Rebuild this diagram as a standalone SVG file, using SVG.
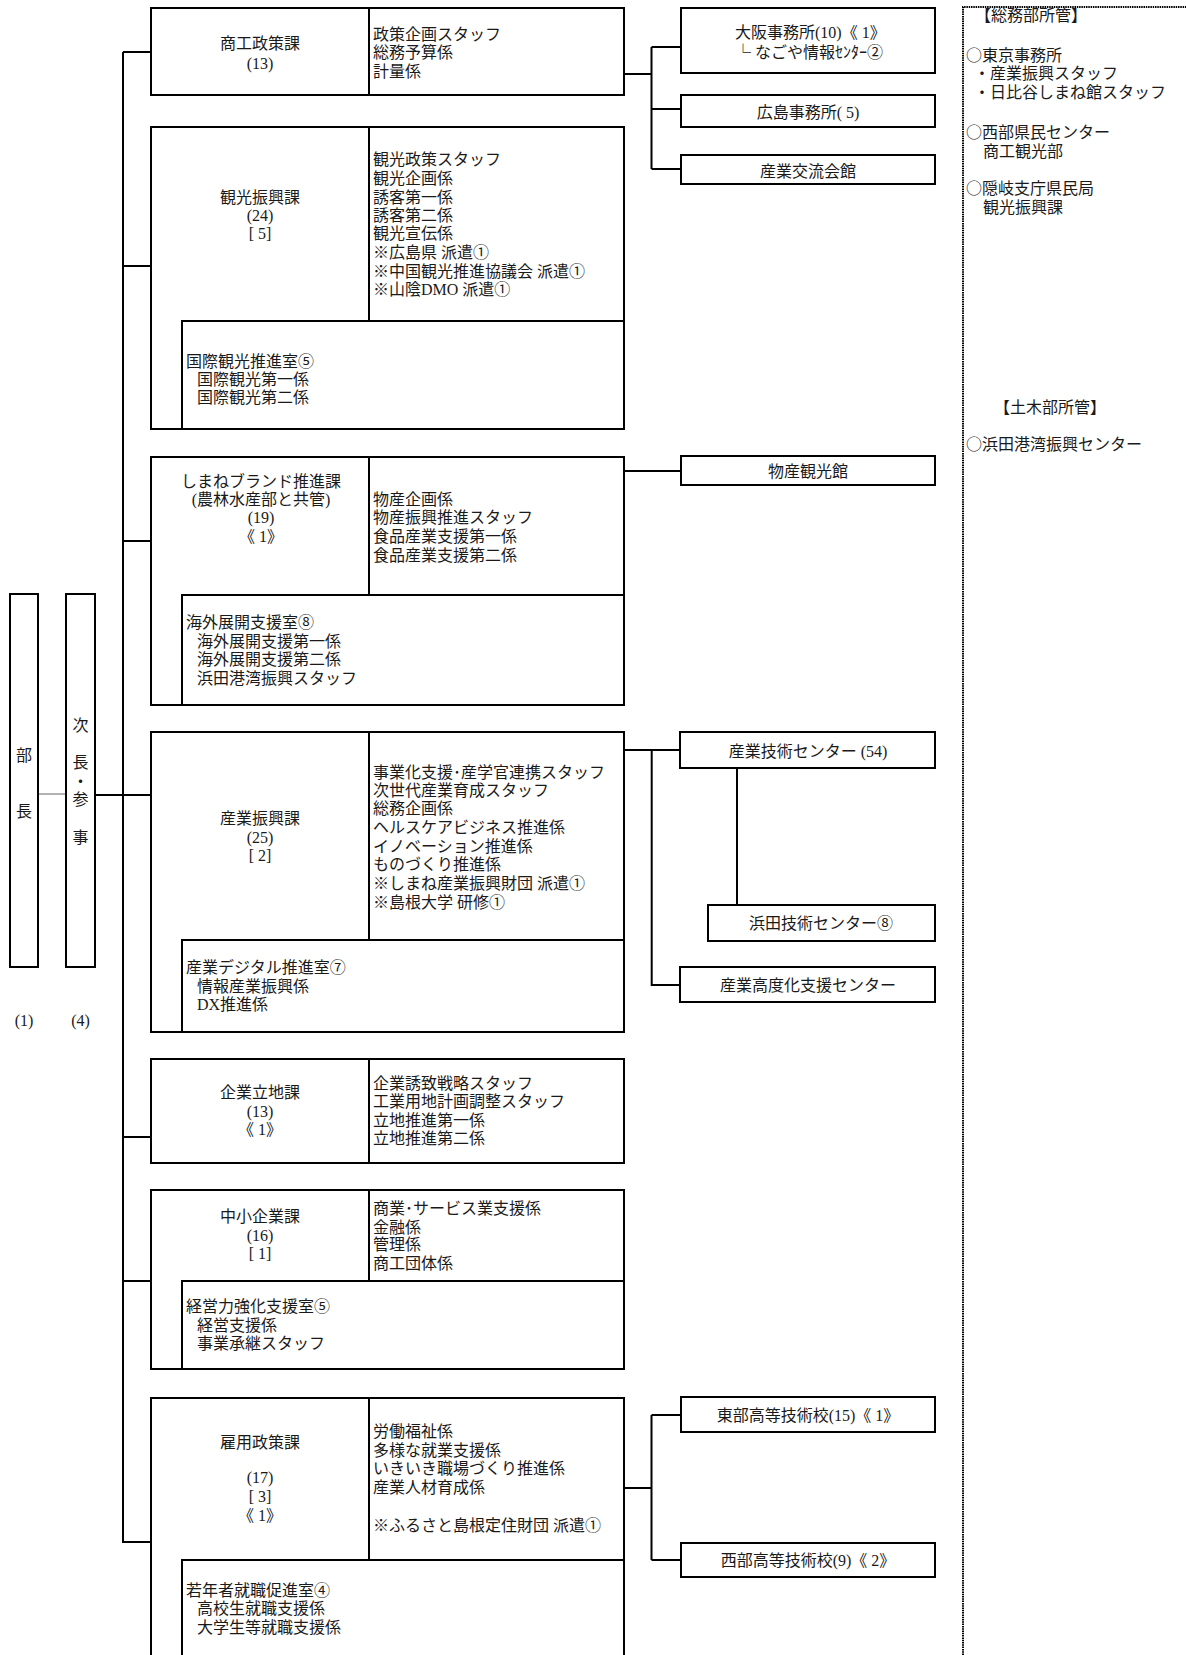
<svg xmlns="http://www.w3.org/2000/svg" width="1186" height="1655" viewBox="0 0 1186 1655">
<style>
.b{fill:#fff;stroke:#000;stroke-width:2}
.l{fill:none;stroke:#000;stroke-width:2}
.thin{fill:none;stroke:#666;stroke-width:1}
.dot{fill:none;stroke:#000;stroke-width:2;stroke-dasharray:1.5 0.8}
text{font-family:'Liberation Serif','Noto Sans CJK JP',serif;font-size:16px;fill:#1a1a1a}
.j{font-family:'Noto Sans CJK JP',sans-serif}
.c{text-anchor:middle}
</style>
<rect x="0" y="0" width="1186" height="1655" fill="#fff"/>

<g id="connectors">
<line class="l" x1="123" y1="52" x2="123" y2="1542"/>
<line class="l" x1="123" y1="52" x2="151" y2="52"/>
<line class="l" x1="123" y1="266" x2="151" y2="266"/>
<line class="l" x1="123" y1="541" x2="151" y2="541"/>
<line class="l" x1="95" y1="795" x2="151" y2="795"/>
<line class="l" x1="123" y1="1137" x2="151" y2="1137"/>
<line class="l" x1="123" y1="1281" x2="151" y2="1281"/>
<line class="l" x1="122" y1="1542" x2="151" y2="1542"/>
<line class="thin" x1="38" y1="794" x2="66" y2="794"/>
<path class="l" d="M624 74H651.5M651.5 47V169M651.5 47H681M651.5 109H681M651.5 169H681"/>
<path class="l" d="M624 471H681"/>
<path class="l" d="M624 750H680M651.7 750V985H680M737 768V905"/>
<path class="l" d="M624 1488H651.5M651.5 1415V1560M651.5 1415H681M651.5 1560H681"/>
</g>

<g id="bucho">
<rect class="b" x="10" y="594" width="28" height="373"/>
<text class="c" x="24" y="761">部</text>
<text class="c" x="24" y="817">長</text>
<text class="c" x="24" y="1026">(1)</text>
</g>

<g id="jicho">
<rect class="b" x="66" y="594" width="29" height="373"/>
<text class="c" x="80.5" y="731">次</text>
<text class="c" x="80.5" y="768">長</text>
<text class="c" x="80.5" y="787">・</text>
<text class="c" x="80.5" y="805">参</text>
<text class="c" x="80.5" y="843">事</text>
<text class="c" x="80.5" y="1026">(4)</text>
</g>

<g id="shoko-seisaku">
<rect class="b" x="151" y="8" width="473" height="87"/>
<line class="l" x1="369" y1="8" x2="369" y2="95"/>
<text class="c" x="260" y="49">商工政策課</text>
<text class="c" x="260" y="69">(13)</text>
<text x="373" y="39.5">政策企画スタッフ</text>
<text x="373" y="58">総務予算係</text>
<text x="373" y="76.5">計量係</text>
</g>

<g id="kanko-shinko">
<rect class="b" x="151" y="127" width="473" height="302"/>
<line class="l" x1="369" y1="127" x2="369" y2="321"/>
<rect class="b" x="182" y="321" width="442" height="108"/>
<text class="c" x="260" y="202.7">観光振興課</text>
<text class="c" x="260" y="221">(24)</text>
<text class="c" x="260" y="239.3">[ 5]</text>
<text x="373" y="165.3">観光政策スタッフ</text>
<text x="373" y="184">観光企画係</text>
<text x="373" y="202.7">誘客第一係</text>
<text x="373" y="221">誘客第二係</text>
<text x="373" y="239.3">観光宣伝係</text>
<text x="373" y="258">※広島県 派遣<tspan class="j">①</tspan></text>
<text x="373" y="276.7">※中国観光推進協議会 派遣<tspan class="j">①</tspan></text>
<text x="373" y="295.3">※山陰DMO 派遣<tspan class="j">①</tspan></text>
<text x="186" y="366.7">国際観光推進室<tspan class="j">⑤</tspan></text>
<text x="197" y="385">国際観光第一係</text>
<text x="197" y="403.3">国際観光第二係</text>
</g>

<g id="shimane-brand">
<rect class="b" x="151" y="457" width="473" height="248"/>
<line class="l" x1="369" y1="457" x2="369" y2="595"/>
<rect class="b" x="182" y="595" width="442" height="110"/>
<text class="c" x="261" y="486.7">しまねブランド推進課</text>
<text class="c" x="261" y="505">(農林水産部と共管)</text>
<text class="c" x="261" y="523.3">(19)</text>
<text class="c" x="261" y="542">《 1》</text>
<text x="373" y="505">物産企画係</text>
<text x="373" y="523.3">物産振興推進スタッフ</text>
<text x="373" y="542">食品産業支援第一係</text>
<text x="373" y="561">食品産業支援第二係</text>
<text x="186" y="628.3">海外展開支援室<tspan class="j">⑧</tspan></text>
<text x="197" y="646.7">海外展開支援第一係</text>
<text x="197" y="665.3">海外展開支援第二係</text>
<text x="197" y="683.7">浜田港湾振興スタッフ</text>
</g>

<g id="sangyo-shinko">
<rect class="b" x="151" y="732" width="473" height="300"/>
<line class="l" x1="369" y1="732" x2="369" y2="940"/>
<rect class="b" x="182" y="940" width="442" height="92"/>
<text class="c" x="260" y="824.3">産業振興課</text>
<text class="c" x="260" y="842.7">(25)</text>
<text class="c" x="260" y="861">[ 2]</text>
<text x="373" y="777.7">事業化支援･産学官連携スタッフ</text>
<text x="373" y="796">次世代産業育成スタッフ</text>
<text x="373" y="814.3">総務企画係</text>
<text x="373" y="832.7">ヘルスケアビジネス推進係</text>
<text x="373" y="852">イノベーション推進係</text>
<text x="373" y="870.3">ものづくり推進係</text>
<text x="373" y="889.3">※しまね産業振興財団 派遣<tspan class="j">①</tspan></text>
<text x="373" y="907.7">※島根大学 研修<tspan class="j">①</tspan></text>
<text x="186" y="972.7">産業デジタル推進室<tspan class="j">⑦</tspan></text>
<text x="197" y="991.7">情報産業振興係</text>
<text x="197" y="1010.3">DX推進係</text>
</g>

<g id="kigyo-ritchi">
<rect class="b" x="151" y="1059" width="473" height="104"/>
<line class="l" x1="369" y1="1059" x2="369" y2="1163"/>
<text class="c" x="260" y="1097.7">企業立地課</text>
<text class="c" x="260" y="1116.7">(13)</text>
<text class="c" x="260" y="1135.3">《 1》</text>
<text x="373" y="1088.7">企業誘致戦略スタッフ</text>
<text x="373" y="1107">工業用地計画調整スタッフ</text>
<text x="373" y="1126">立地推進第一係</text>
<text x="373" y="1144.3">立地推進第二係</text>
</g>

<g id="chusho-kigyo">
<rect class="b" x="151" y="1190" width="473" height="179"/>
<line class="l" x1="369" y1="1190" x2="369" y2="1281"/>
<rect class="b" x="182" y="1281" width="442" height="88"/>
<text class="c" x="260" y="1222">中小企業課</text>
<text class="c" x="260" y="1241">(16)</text>
<text class="c" x="260" y="1259.3">[ 1]</text>
<text x="373" y="1213.7">商業･サービス業支援係</text>
<text x="373" y="1232.7">金融係</text>
<text x="373" y="1250.3">管理係</text>
<text x="373" y="1269.3">商工団体係</text>
<text x="186" y="1312">経営力強化支援室<tspan class="j">⑤</tspan></text>
<text x="197" y="1331">経営支援係</text>
<text x="197" y="1348.7">事業承継スタッフ</text>
</g>

<g id="koyo-seisaku">
<rect class="b" x="151" y="1398" width="473" height="262"/>
<line class="l" x1="369" y1="1398" x2="369" y2="1560"/>
<rect class="b" x="182" y="1560" width="442" height="100"/>
<text class="c" x="260" y="1447.7">雇用政策課</text>
<text class="c" x="260" y="1482.7">(17)</text>
<text class="c" x="260" y="1502">[ 3]</text>
<text class="c" x="260" y="1521">《 1》</text>
<text x="373" y="1436.7">労働福祉係</text>
<text x="373" y="1456">多様な就業支援係</text>
<text x="373" y="1474.3">いきいき職場づくり推進係</text>
<text x="373" y="1492.7">産業人材育成係</text>
<text x="373" y="1531">※ふるさと島根定住財団 派遣<tspan class="j">①</tspan></text>
<text x="186" y="1596">若年者就職促進室<tspan class="j">④</tspan></text>
<text x="197" y="1614.3">高校生就職支援係</text>
<text x="197" y="1633.3">大学生等就職支援係</text>
</g>

<g id="osaka">
<rect class="b" x="681" y="8" width="254" height="65"/>
<text x="735" y="37.7">大阪事務所(10)《 1》</text>
<text x="735" y="57.7"><tspan class="j">└</tspan> なごや情報ｾﾝﾀｰ<tspan class="j">②</tspan></text>
</g>
<g id="hiroshima">
<rect class="b" x="681" y="95" width="254" height="32"/>
<text class="c" x="808" y="117.7">広島事務所( 5)</text>
</g>
<g id="sangyo-koryu">
<rect class="b" x="681" y="155" width="254" height="29"/>
<text class="c" x="808" y="176.7">産業交流会館</text>
</g>
<g id="bussan-kanko">
<rect class="b" x="681" y="456" width="254" height="29"/>
<text class="c" x="808" y="477">物産観光館</text>
</g>
<g id="sangyo-gijutsu">
<rect class="b" x="680" y="732" width="255" height="36"/>
<text class="c" x="808" y="756.7">産業技術センター (54)</text>
</g>
<g id="hamada-gijutsu">
<rect class="b" x="708" y="905" width="227" height="36"/>
<text class="c" x="821" y="929">浜田技術センター<tspan class="j">⑧</tspan></text>
</g>
<g id="kodoka">
<rect class="b" x="680" y="967" width="255" height="35"/>
<text class="c" x="808" y="991">産業高度化支援センター</text>
</g>
<g id="tobu-koto">
<rect class="b" x="681" y="1397" width="254" height="35"/>
<text class="c" x="808" y="1421">東部高等技術校(15)《 1》</text>
</g>
<g id="seibu-koto">
<rect class="b" x="681" y="1543" width="254" height="34"/>
<text class="c" x="808" y="1566">西部高等技術校(9)《 2》</text>
</g>

<g id="other-depts">
<path class="dot" d="M963 1655V7H1186"/>
<text class="c" x="1031" y="21">【総務部所管】</text>
<text x="966" y="60.5"><tspan class="j">○</tspan>東京事務所</text>
<text x="974" y="79">・産業振興スタッフ</text>
<text x="974" y="97.5">・日比谷しまね館スタッフ</text>
<text x="966" y="138"><tspan class="j">○</tspan>西部県民センター</text>
<text x="983" y="156.5">商工観光部</text>
<text x="966" y="194"><tspan class="j">○</tspan>隠岐支庁県民局</text>
<text x="983" y="212.5">観光振興課</text>
<text class="c" x="1050" y="413">【土木部所管】</text>
<text x="966" y="449.5"><tspan class="j">○</tspan>浜田港湾振興センター</text>
</g>
</svg>
